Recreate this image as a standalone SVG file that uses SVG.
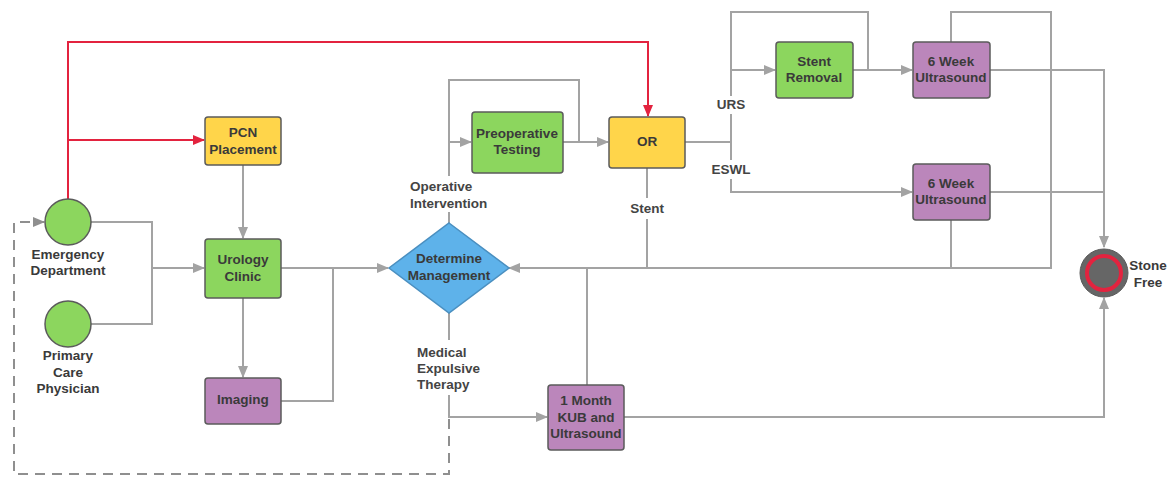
<svg xmlns="http://www.w3.org/2000/svg" width="1171" height="477" viewBox="0 0 1171 477">
<style>
text{font-family:"Liberation Sans",Arial,sans-serif;font-weight:bold;font-size:13.5px;fill:#3a3a3a;text-anchor:middle;dominant-baseline:central}
.lbl{fill:#444}
.l{text-anchor:start}
.c{fill:none;stroke:#a3a3a3;stroke-width:2}
.r{fill:none;stroke:#e3233f;stroke-width:2}
.d{fill:none;stroke:#8f8f8f;stroke-width:2;stroke-dasharray:10,7}
.n{stroke:#5b5b5b;stroke-width:1.5}
.g{fill:#8cd65e}
.y{fill:#ffd54a}
.p{fill:#bb86bb}
.b{fill:#5eb2ea;stroke:#4a8fc0;stroke-width:1.5}
</style>
<defs>
<marker id="ag" markerWidth="12" markerHeight="10" refX="11" refY="5" orient="auto" markerUnits="userSpaceOnUse"><path d="M0,0 L12,5 L0,10 Z" fill="#a3a3a3"/></marker>
<marker id="ar" markerWidth="12" markerHeight="10" refX="11" refY="5" orient="auto" markerUnits="userSpaceOnUse"><path d="M0,0 L12,5 L0,10 Z" fill="#e3233f"/></marker>
<marker id="ad" markerWidth="12" markerHeight="10" refX="11" refY="5" orient="auto" markerUnits="userSpaceOnUse"><path d="M0,0 L12,5 L0,10 Z" fill="#8f8f8f"/></marker>
</defs>
<g id="connectors">
<path class="c" d="M91,222 H152 V324 H91"/>
<path class="c" d="M152,268 H204" marker-end="url(#ag)"/>
<path class="r" d="M68,199 V42 H648 V116" marker-end="url(#ar)"/>
<path class="r" d="M68,140 H204" marker-end="url(#ar)"/>
<path class="c" d="M243,165 V238" marker-end="url(#ag)"/>
<path class="c" d="M243,298 V377" marker-end="url(#ag)"/>
<path class="c" d="M281,268 H388" marker-end="url(#ag)"/>
<path class="c" d="M281,401 H333 V268"/>
<path class="c" d="M449,223 V212"/>
<path class="c" d="M449,176 V80 H579 V142"/>
<path class="c" d="M449,142 H471" marker-end="url(#ag)"/>
<path class="c" d="M563,142 H608" marker-end="url(#ag)"/>
<path class="c" d="M685,142 H731"/>
<path class="c" d="M731,96 V12 H868 V70"/>
<path class="c" d="M731,70 H775" marker-end="url(#ag)"/>
<path class="c" d="M853,70 H912" marker-end="url(#ag)"/>
<path class="c" d="M731,114 V160"/>
<path class="c" d="M731,179 V192 H912" marker-end="url(#ag)"/>
<path class="c" d="M990,70 H1104 V247" marker-end="url(#ag)"/>
<path class="c" d="M990,192 H1104"/>
<path class="c" d="M951,42 V12 H1051 V268 H509" marker-end="url(#ag)"/>
<path class="c" d="M951,220 V268"/>
<path class="c" d="M647,168 V198"/>
<path class="c" d="M647,219 V268"/>
<path class="c" d="M587,268 V385"/>
<path class="c" d="M449,313 V340"/>
<path class="c" d="M449,395 V417 H547" marker-end="url(#ag)"/>
<path class="d" d="M449,419 V474 H14 V222 H44" marker-end="url(#ad)"/>
<path class="c" d="M624,417 H1104 V298" marker-end="url(#ag)"/>
<text class="lbl l" x="410" y="186">Operative</text>
<text class="lbl l" x="410" y="203">Intervention</text>
<text class="lbl" x="647" y="208">Stent</text>
<text class="lbl" x="731" y="104">URS</text>
<text class="lbl" x="731" y="169">ESWL</text>
<text class="lbl l" x="417" y="352">Medical</text>
<text class="lbl l" x="417" y="368">Expulsive</text>
<text class="lbl l" x="417" y="384">Therapy</text>
</g>
<g id="emergency-department">
<circle class="n g" cx="68" cy="222" r="23"/>
<text x="68" y="254">Emergency</text>
<text x="68" y="270">Department</text>
</g>
<g id="primary-care-physician">
<circle class="n g" cx="68" cy="324" r="23"/>
<text x="68" y="355">Primary</text>
<text x="68" y="372">Care</text>
<text x="68" y="388">Physician</text>
</g>
<g id="pcn-placement">
<rect class="n y" x="205" y="117" width="76" height="48" rx="3"/>
<text x="243" y="132">PCN</text>
<text x="243" y="149">Placement</text>
</g>
<g id="urology-clinic">
<rect class="n g" x="205" y="239" width="76" height="59" rx="3"/>
<text x="243" y="259">Urology</text>
<text x="243" y="276">Clinic</text>
</g>
<g id="imaging">
<rect class="n p" x="205" y="378" width="76" height="46" rx="3"/>
<text x="243" y="399">Imaging</text>
</g>
<g id="determine-management">
<polygon class="b" points="449,223 509,268 449,313 389,268"/>
<text x="449" y="258">Determine</text>
<text x="449" y="275">Management</text>
</g>
<g id="preoperative-testing">
<rect class="n g" x="472" y="112" width="91" height="61" rx="3"/>
<text x="517" y="133">Preoperative</text>
<text x="517" y="149">Testing</text>
</g>
<g id="or">
<rect class="n y" x="609" y="117" width="76" height="51" rx="3"/>
<text x="647" y="141">OR</text>
</g>
<g id="stent-removal">
<rect class="n g" x="776" y="42" width="77" height="56" rx="3"/>
<text x="814" y="61">Stent</text>
<text x="814" y="77">Removal</text>
</g>
<g id="six-week-ultrasound-urs">
<rect class="n p" x="913" y="42" width="77" height="56" rx="3"/>
<text x="951" y="61">6 Week</text>
<text x="951" y="77">Ultrasound</text>
</g>
<g id="six-week-ultrasound-eswl">
<rect class="n p" x="913" y="164" width="77" height="56" rx="3"/>
<text x="951" y="183">6 Week</text>
<text x="951" y="199">Ultrasound</text>
</g>
<g id="one-month-kub">
<rect class="n p" x="548" y="385" width="76" height="65" rx="3"/>
<text x="586" y="400">1 Month</text>
<text x="586" y="417">KUB and</text>
<text x="586" y="433">Ultrasound</text>
</g>
<g id="stone-free">
<circle cx="1104" cy="273" r="24" fill="#666" stroke="#5a5a5a" stroke-width="1"/>
<circle cx="1104" cy="273" r="17" fill="#666" stroke="#e3233f" stroke-width="4"/>
<text x="1148" y="265">Stone</text>
<text x="1148" y="282">Free</text>
</g>
</svg>
